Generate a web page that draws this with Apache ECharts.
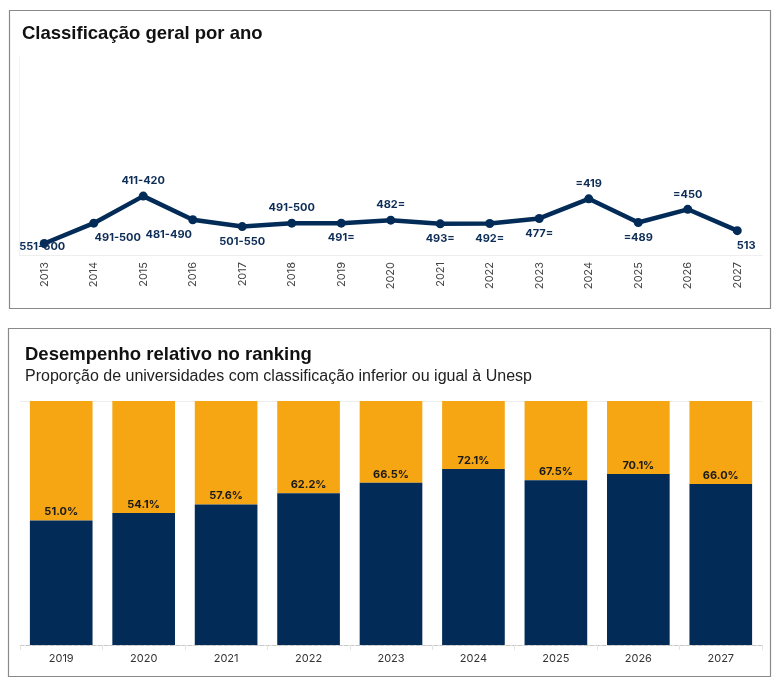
<!DOCTYPE html>
<html>
<head>
<meta charset="utf-8">
<script src="https://cdn.jsdelivr.net/npm/echarts@6/dist/echarts.min.js"></script>
<style>
html,body{margin:0;padding:0;background:#fff;}
#c{width:780px;height:687px;}
</style>
</head>
<body>
<div id="c"></div>
<script>
// Top chart: overall rank per year
const rankYears = ['2013','2014','2015','2016','2017','2018','2019','2020','2021','2022','2023','2024','2025','2026','2027'];
const rankValues = [551, 491, 411, 481, 501, 491, 491, 482, 493, 492, 477, 419, 489, 450, 513];
const rankLabels = ['551-600','491-500','411-420','481-490','501-550','491-500','491=','482=','493=','492=','477=','=419','=489','=450','513'];
const rankLabelSide = ['inside','bottom','top','bottom','bottom','top','bottom','top','bottom','bottom','bottom','top','bottom','top','bottom'];

// Bottom chart: share of universities ranked at or below Unesp
const shareYears = ['2019','2020','2021','2022','2023','2024','2025','2026','2027'];
const shareValues = [51.0, 54.1, 57.6, 62.2, 66.5, 72.1, 67.5, 70.1, 66.0];
const shareRest = shareValues.map(v => +(100 - v).toFixed(1));

const NAVY = '#022c57';
const ORANGE = '#f5a612';
const FONT = 'Inter, "Noto Sans", sans-serif';

const labelOffsets = {0: [-2, 3], 1: [24, 0], 3: [-24, 0], 14: [9, 0]};

const lineData = rankValues.map((v, i) => ({
  value: v,
  label: {
    position: rankLabelSide[i],
    offset: labelOffsets[i] || [0, 0],
    formatter: rankLabels[i]
  }
}));

const chart = echarts.init(document.getElementById('c'), null, {renderer: 'canvas'});
chart.setOption({
  backgroundColor: '#fff',
  animation: false,
  graphic: [
    {type: 'rect', shape: {x: 9.5, y: 10.5, width: 761, height: 298}, style: {fill: 'none', stroke: '#8a8a8a', lineWidth: 1.2}},
    {type: 'rect', shape: {x: 8.5, y: 328.5, width: 762, height: 348}, style: {fill: 'none', stroke: '#8a8a8a', lineWidth: 1.2}}
  ],
  title: [
    {text: 'Classificação geral por ano', left: 22, top: 24, padding: 0,
     textStyle: {fontFamily: 'Liberation Sans, Arial, sans-serif', fontSize: 18.5, fontWeight: 'bold', color: '#111'}},
    {text: 'Desempenho relativo no ranking', left: 25, top: 345, padding: 0,
     subtext: 'Proporção de universidades com classificação inferior ou igual à Unesp', itemGap: 5,
     textStyle: {fontFamily: 'Liberation Sans, Arial, sans-serif', fontSize: 18.5, fontWeight: 'bold', color: '#111'},
     subtextStyle: {fontFamily: 'Liberation Sans, Arial, sans-serif', fontSize: 16, color: '#222'}}
  ],
  grid: [
    {left: 19.5, right: 18, top: 57, height: 198},
    {left: 20, right: 18, top: 401, height: 244}
  ],
  xAxis: [
    {type: 'category', gridIndex: 0, data: rankYears, boundaryGap: true,
     axisLine: {show: true, onZero: false, lineStyle: {color: '#eeeeee'}},
     axisTick: {show: false},
     axisLabel: {rotate: 90, margin: 7, fontSize: 11, color: '#444', fontFamily: FONT}},
    {type: 'category', gridIndex: 1, data: shareYears,
     axisLine: {show: true, lineStyle: {color: '#c8c8c8', type: 'dashed'}},
     axisTick: {show: true, length: 5, lineStyle: {color: '#e4e4e4'}},
     axisLabel: {margin: 8, fontSize: 11, color: '#333', fontFamily: FONT}}
  ],
  yAxis: [
    {type: 'value', gridIndex: 0, inverse: true, min: 0, max: 585,
     axisLine: {show: true, lineStyle: {color: '#f2f2f2'}},
     axisLabel: {show: false}, axisTick: {show: false}, splitLine: {show: false}},
    {type: 'value', gridIndex: 1, min: 0, max: 100, interval: 100,
     axisLine: {show: false}, axisLabel: {show: false}, axisTick: {show: false},
     splitLine: {show: true, lineStyle: {color: '#eeeeee'}}}
  ],
  series: [
    {type: 'line', xAxisIndex: 0, yAxisIndex: 0, data: lineData,
     symbol: 'circle', symbolSize: 9,
     lineStyle: {color: NAVY, width: 4.5},
     itemStyle: {color: NAVY},
     label: {show: true, distance: 5, fontSize: 11, fontWeight: 'bold', color: '#0d2d57', fontFamily: FONT}},
    {type: 'bar', xAxisIndex: 1, yAxisIndex: 1, stack: 'share', data: shareValues,
     barWidth: '76%', itemStyle: {color: NAVY},
     label: {show: true, position: 'top', distance: 3, fontSize: 11, fontWeight: 'bold', color: '#1a1a1a',
             fontFamily: FONT, formatter: p => p.value.toFixed(1) + '%'}},
    {type: 'bar', xAxisIndex: 1, yAxisIndex: 1, stack: 'share', data: shareRest,
     barWidth: '76%', itemStyle: {color: ORANGE}, z: 1}
  ]
});
</script>
</body>
</html>
